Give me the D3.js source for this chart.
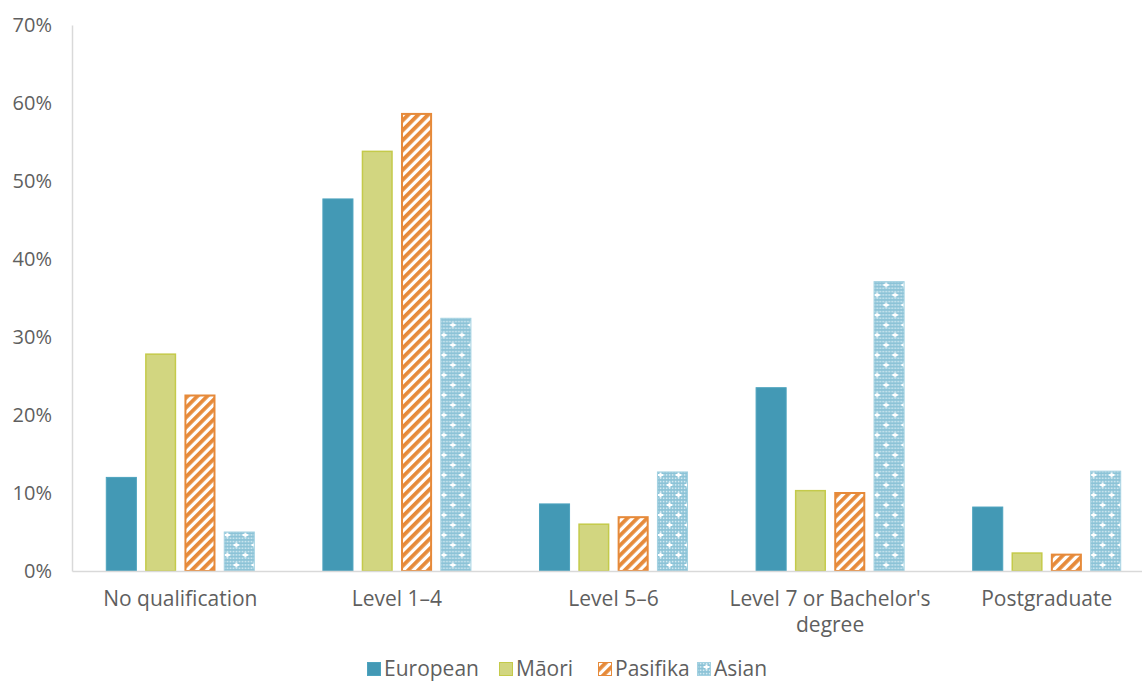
<!DOCTYPE html>
<html>
<head>
<meta charset="utf-8">
<script src="https://cdn.jsdelivr.net/npm/d3@7"></script>
<style>
  html, body { margin: 0; padding: 0; background: #fff; }
  svg text { font-family: "Open Sans", Lato, sans-serif; fill: #5f5f5f; }
</style>
</head>
<body>
<svg id="chart" width="1142" height="682"></svg>
<script>
// Qualification levels by ethnic group (% of each group)
const categories = ["No qualification", "Level 1\u20134", "Level 5\u20136", "Level 7 or Bachelor's degree", "Postgraduate"];
const seriesNames = ["European", "M\u0101ori", "Pasifika", "Asian"];
const european = [12.0, 47.7, 8.6, 23.5, 8.2];
const maori    = [27.8, 53.8, 6.0, 10.3, 2.3];
const pasifika = [22.5, 58.6, 6.9, 10.0, 2.1];
const asian    = [5.0, 32.4, 12.7, 37.1, 12.8];
const yTicks = [0, 10, 20, 30, 40, 50, 60, 70];

const seriesValues = [european, maori, pasifika, asian];

const svg = d3.select("#chart");
const width = 1142, height = 682;
const margin = { left: 72, top: 25, bottom: 111 };

// The plot band runs a little past the right edge of the canvas
const x0 = d3.scaleBand().domain(categories)
  .range([margin.left, 1155]).paddingInner(0.312).paddingOuter(0.156);
const x1 = d3.scaleBand().domain(seriesNames).range([0, x0.bandwidth()])
  .paddingInner(0.21).paddingOuter(0);
const y = d3.scaleLinear().domain([0, 70]).range([height - margin.bottom, margin.top]);

// Fill patterns
const defs = svg.append("defs");
const stripes = defs.append("pattern").attr("id", "stripes")
  .attr("patternUnits", "userSpaceOnUse").attr("width", 7).attr("height", 7)
  .attr("patternTransform", "rotate(45)");
stripes.append("rect").attr("width", 7).attr("height", 7).attr("fill", "#fff");
stripes.append("rect").attr("width", 3.8).attr("height", 7).attr("fill", "#e68a3a");

const dots = defs.append("pattern").attr("id", "dots")
  .attr("patternUnits", "userSpaceOnUse").attr("width", 18).attr("height", 20);
dots.append("rect").attr("width", 18).attr("height", 20).attr("fill", "#8cc3d7");
for (let i = 0; i < 18; i += 3) {
  for (let j = 0; j < 20; j += 3.333) {
    dots.append("rect").attr("x", i + 0.8).attr("y", j + 0.8).attr("width", 1.6).attr("height", 1.6)
      .attr("fill", "#d3eaf2");
  }
}
[[4.5, 5], [13.5, 15]].forEach(([cx, cy]) => {
  dots.append("rect").attr("x", cx - 1).attr("y", cy - 2.5).attr("width", 2).attr("height", 5).attr("fill", "#fff");
  dots.append("rect").attr("x", cx - 2.5).attr("y", cy - 1).attr("width", 5).attr("height", 2).attr("fill", "#fff");
});

const styles = {
  "European": { fill: "#4399b5", stroke: "#4da3be", sw: 1 },
  "M\u0101ori": { fill: "#d2d680", stroke: "#c4ca4a", sw: 1.5 },
  "Pasifika": { fill: "url(#stripes)", stroke: "#e68a3a", sw: 2 },
  "Asian": { fill: "url(#dots)", stroke: "#a3d1e1", sw: 1 }
};

// Axes
const yAxis = svg.append("g").attr("transform", `translate(${margin.left},0)`)
  .call(d3.axisLeft(y).tickValues(yTicks).tickFormat(d => d + "%").tickSize(0).tickPadding(20));
yAxis.select(".domain").attr("stroke", "#d9d9d9").attr("stroke-width", 1.5);
yAxis.selectAll("text").attr("font-size", 20).style("fill", "#5f5f5f");

// Bars
const groups = svg.append("g").selectAll("g").data(categories).join("g")
  .attr("transform", d => `translate(${x0(d)},0)`);
groups.selectAll("rect")
  .data((c, ci) => seriesNames.map((s, si) => ({ s, v: seriesValues[si][ci] })))
  .join("rect")
  .attr("x", d => x1(d.s) + styles[d.s].sw / 2)
  .attr("width", d => x1.bandwidth() - styles[d.s].sw)
  .attr("y", d => y(d.v))
  .attr("height", d => y(0) - y(d.v))
  .attr("fill", d => styles[d.s].fill)
  .attr("stroke", d => styles[d.s].stroke)
  .attr("stroke-width", d => styles[d.s].sw);

const xAxis = svg.append("g").attr("transform", `translate(0,${y(0)})`)
  .call(d3.axisBottom(x0).tickSize(0).tickPadding(20));
xAxis.select(".domain").attr("stroke", "#d9d9d9").attr("stroke-width", 1.5);
xAxis.selectAll("text").attr("font-size", 21).style("fill", "#5f5f5f")
  .each(function (d) {
    if (d === "Level 7 or Bachelor's degree") {
      const t = d3.select(this).text(null);
      t.append("tspan").attr("x", 0).attr("dy", "0.71em").text("Level 7 or Bachelor's");
      t.append("tspan").attr("x", 0).attr("dy", "1.24em").text("degree");
      t.attr("dy", null);
    }
  });

// Legend
const legendItems = [
  { s: "European", x: 367 }, { s: "M\u0101ori", x: 499 },
  { s: "Pasifika", x: 598 }, { s: "Asian", x: 697 }
];
const legend = svg.append("g").attr("transform", "translate(0,662)");
legendItems.forEach(it => {
  const st = styles[it.s];
  legend.append("rect").attr("x", it.x + 0.5).attr("y", 0.5).attr("width", 13).attr("height", 13)
    .attr("fill", st.fill).attr("stroke", st.stroke).attr("stroke-width", 1);
  legend.append("text").attr("x", it.x + 17).attr("y", 7).attr("dy", "0.35em")
    .attr("font-size", 21).text(it.s);
});
</script>
</body>
</html>
